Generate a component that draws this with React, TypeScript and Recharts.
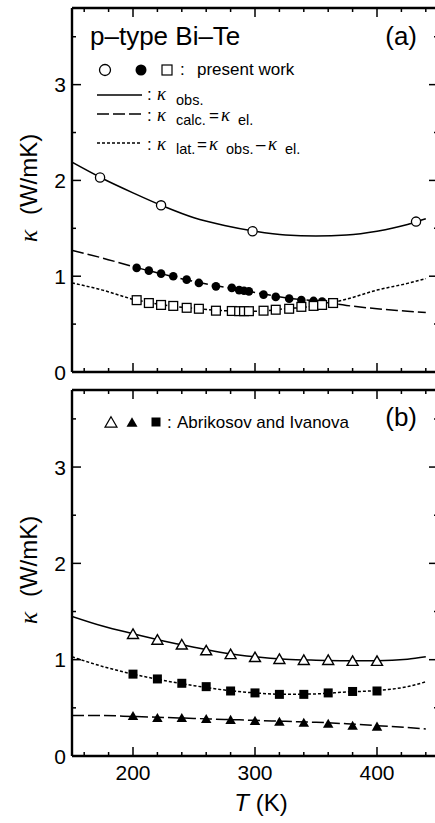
// App.tsx — thermal conductivity of p-type Bi–Te, two stacked panels (a) and (b)
import React from "react";
import { ComposedChart, Line, Scatter, XAxis, YAxis } from "recharts";

// ---- panel (a): present work ----
const T_OBS_A = [173, 223, 298, 432];
const K_OBS_A = [2.03, 1.74, 1.47, 1.57];

const T_EL_A = [203, 213, 223, 233, 244, 254, 268, 281, 287, 291, 295, 307, 317, 328, 338, 348, 355];
const K_EL_A = [1.087, 1.058, 1.027, 0.999, 0.964, 0.93, 0.894, 0.878, 0.855, 0.848, 0.842, 0.808, 0.784, 0.766, 0.752, 0.742, 0.735];

const T_LAT_A = [203, 213, 223, 233, 244, 254, 268, 281, 287, 291, 295, 307, 317, 328, 338, 348, 355, 364];
const K_LAT_A = [0.75, 0.72, 0.7, 0.69, 0.67, 0.66, 0.64, 0.637, 0.635, 0.635, 0.635, 0.64, 0.65, 0.66, 0.68, 0.69, 0.7, 0.72];

// fitted curves (a)
const T_FIT = [150, 175, 200, 225, 250, 275, 300, 325, 350, 375, 400, 425, 440];
const FIT_OBS_A = [2.19, 2.02, 1.87, 1.73, 1.61, 1.53, 1.47, 1.43, 1.42, 1.43, 1.47, 1.54, 1.6];
const FIT_EL_A = [1.27, 1.19, 1.1, 1.02, 0.945, 0.885, 0.83, 0.775, 0.74, 0.695, 0.66, 0.635, 0.62];
const FIT_LAT_A = [0.93, 0.855, 0.76, 0.7, 0.665, 0.64, 0.635, 0.66, 0.69, 0.76, 0.855, 0.925, 0.975];

// ---- panel (b): Abrikosov and Ivanova ----
const T_B = [200, 220, 240, 260, 280, 300, 320, 340, 360, 380, 400];
const K_OBS_B = [1.27, 1.21, 1.16, 1.1, 1.06, 1.03, 1.01, 1.0, 1.0, 0.99, 0.99];
const K_LAT_B = [0.85, 0.8, 0.755, 0.72, 0.675, 0.655, 0.64, 0.64, 0.655, 0.67, 0.675];
const K_EL_B = [0.42, 0.4, 0.4, 0.39, 0.38, 0.37, 0.36, 0.35, 0.34, 0.32, 0.31];

const FIT_OBS_B = [1.45, 1.35, 1.27, 1.195, 1.13, 1.07, 1.03, 1.005, 0.995, 0.99, 0.99, 1.005, 1.03];
const FIT_LAT_B = [1.03, 0.93, 0.85, 0.785, 0.73, 0.685, 0.655, 0.64, 0.645, 0.665, 0.68, 0.72, 0.77];
const FIT_EL_B = [0.42, 0.42, 0.41, 0.4, 0.39, 0.38, 0.37, 0.36, 0.35, 0.335, 0.315, 0.295, 0.28];

// axis ticks
const X_TICKS = [160, 180, 200, 220, 240, 260, 280, 300, 320, 340, 360, 380, 400, 420, 440];
const Y_TICKS = [0, 0.5, 1, 1.5, 2, 2.5, 3, 3.5];

const FONT = "'Liberation Sans', Arial, Helvetica, sans-serif";
const SERIF = "'Liberation Serif', 'Times New Roman', serif";
const W = 450;

const pts = (t: number[], k: number[]) => t.map((v, i) => ({ t: v, k: k[i] }));

// marker shapes
const openCircle = (p: any) => <circle cx={p.cx} cy={p.cy} r={4.6} fill="#fff" stroke="#000" strokeWidth={1.3} />;
const fillCircle = (p: any) => <circle cx={p.cx} cy={p.cy} r={4.3} fill="#000" />;
const openSquare = (p: any) => <rect x={p.cx - 4.4} y={p.cy - 4.4} width={8.8} height={8.8} fill="#fff" stroke="#000" strokeWidth={1.3} />;
const fillSquare = (p: any) => <rect x={p.cx - 4.5} y={p.cy - 4.5} width={9} height={9} fill="#000" />;
const tri = (cx: number, cy: number, s: number) => {
  const h = s * 0.866;
  return `M${cx},${cy - h / 2} L${cx + s / 2},${cy + h / 2} L${cx - s / 2},${cy + h / 2} Z`;
};
const openTri = (p: any) => <path d={tri(p.cx, p.cy, 11)} fill="#fff" stroke="#000" strokeWidth={1.4} />;
const fillTri = (p: any) => <path d={tri(p.cx, p.cy, 10.5)} fill="#000" />;

// inward ticks, majors longer
const xTick = (dir: number, labels: boolean) => (props: any) => {
  const { x, y, payload } = props;
  const major = payload.value % 100 === 0;
  return (
    <g>
      <line x1={x} x2={x} y1={y} y2={y + dir * (major ? 9 : 4)} stroke="#000" strokeWidth={1.5} />
      {labels && major && (
        <text x={x} y={y + 24} textAnchor="middle" fontSize={21} fontFamily={FONT} fill="#000">
          {payload.value}
        </text>
      )}
    </g>
  );
};

const yTick = (dir: number, labels: boolean) => (props: any) => {
  const { x, y, payload } = props;
  const v = payload.value;
  const major = Number.isInteger(v);
  return (
    <g>
      {v !== 0 && <line x1={x} x2={x + dir * (major ? 9 : 4)} y1={y} y2={y} stroke="#000" strokeWidth={1.5} />}
      {labels && major && (
        <text x={x - 6} y={y} dy="0.36em" textAnchor="end" fontSize={21} fontFamily={FONT} fill="#000">
          {v}
        </text>
      )}
    </g>
  );
};

function Panel({
  height, margin, xLabels, fits, marks,
}: {
  height: number;
  margin: { top: number; bottom: number };
  xLabels: boolean;
  fits: { k: number[]; dash?: string }[];
  marks: { t: number[]; k: number[]; shape: any }[];
}) {
  const axisProps = { stroke: "#000", strokeWidth: 2.4 };
  // axes get 1px of room (a 0-sized axis is not drawn), margins take it back
  return (
    <ComposedChart width={W} height={height}
      margin={{ top: margin.top - 1, bottom: margin.bottom - 1, left: 71, right: W - 438 - 1 }}>
      <XAxis xAxisId="b" dataKey="t" type="number" domain={[150, 450]} allowDataOverflow ticks={X_TICKS} interval={0}
        height={1} tickSize={0} tickMargin={0} tickLine={false} axisLine={axisProps} tick={xTick(-1, xLabels)} />
      <XAxis xAxisId="top" orientation="top" dataKey="t" type="number" domain={[150, 450]} allowDataOverflow ticks={X_TICKS} interval={0}
        height={1} tickSize={0} tickMargin={0} tickLine={false} axisLine={axisProps} tick={xTick(1, false)} />
      <YAxis yAxisId="l" type="number" domain={[0, 3.8]} allowDataOverflow ticks={Y_TICKS} interval={0}
        width={1} tickSize={0} tickMargin={0} tickLine={false} axisLine={axisProps} tick={yTick(1, true)} />
      <YAxis yAxisId="r" orientation="right" type="number" domain={[0, 3.8]} allowDataOverflow ticks={Y_TICKS} interval={0}
        width={1} tickSize={0} tickMargin={0} tickLine={false} axisLine={axisProps} tick={yTick(-1, false)} />
      {fits.map((f, i) => (
        <Line key={"f" + i} xAxisId="b" yAxisId="l" data={pts(T_FIT, f.k)} dataKey="k" type="monotone"
          stroke="#000" strokeWidth={1.5} strokeDasharray={f.dash} dot={false} activeDot={false} isAnimationActive={false} />
      ))}
      {marks.map((m, i) => (
        <Scatter key={"m" + i} xAxisId="b" yAxisId="l" data={pts(m.t, m.k)} dataKey="k" shape={m.shape} isAnimationActive={false} />
      ))}
    </ComposedChart>
  );
}

const T = (props: any) => <text fontFamily={FONT} fill="#000" {...props} />;
const Kap = ({ x, y }: { x: number; y: number }) => (
  <text x={x} y={y} fontSize={18.5} fontStyle="italic" fontFamily={SERIF} fill="#000">κ</text>
);

function Overlay() {
  return (
    <svg width={435} height={823} style={{ position: "absolute", left: 0, top: 0, pointerEvents: "none" }}>
      {/* panel (a) texts */}
      <T x={90} y={45} fontSize={26}>p–type Bi–Te</T>
      <T x={417} y={45} fontSize={26} textAnchor="end">(a)</T>

      <circle cx={105} cy={70} r={5.5} fill="#fff" stroke="#000" strokeWidth={1.3} />
      <circle cx={141} cy={70} r={5.5} fill="#000" />
      <rect x={162} y={65} width={10} height={10} fill="#fff" stroke="#000" strokeWidth={1.2} />
      <T x={180} y={75} fontSize={17}>:</T>
      <T x={197} y={75} fontSize={17}>present work</T>

      <line x1={97} x2={142} y1={95} y2={95} stroke="#000" strokeWidth={1.5} />
      <T x={147} y={100} fontSize={17}>:</T>
      <Kap x={157} y={99.5} />
      <T x={176} y={105} fontSize={14.5}>obs.</T>

      <line x1={97} x2={142} y1={114} y2={114} stroke="#000" strokeWidth={1.5} strokeDasharray="12 4" />
      <T x={147} y={121} fontSize={17}>:</T>
      <Kap x={157} y={121} />
      <T x={176} y={125} fontSize={14.5}>calc.</T>
      <T x={209} y={121} fontSize={17}>=</T>
      <Kap x={221} y={121} />
      <T x={238} y={125} fontSize={14.5}>el.</T>

      <line x1={97} x2={142} y1={143} y2={143} stroke="#000" strokeWidth={1.5} strokeDasharray="3 2" />
      <T x={147} y={150} fontSize={17}>:</T>
      <Kap x={157} y={150} />
      <T x={176} y={154} fontSize={14.5}>lat.</T>
      <T x={197} y={150} fontSize={17}>=</T>
      <Kap x={209} y={150} />
      <T x={226} y={154} fontSize={14.5}>obs.</T>
      <T x={256} y={150} fontSize={17}>–</T>
      <Kap x={268} y={150} />
      <T x={285} y={154} fontSize={14.5}>el.</T>

      {/* panel (b) texts */}
      <T x={417} y={426} fontSize={26} textAnchor="end">(b)</T>
      <path d={tri(111, 422, 12)} fill="#fff" stroke="#000" strokeWidth={1.2} />
      <path d={tri(132, 422, 11)} fill="#000" />
      <rect x={151.5} y={417.5} width={9} height={9} fill="#000" />
      <T x={167} y={428} fontSize={17}>:</T>
      <T x={177} y={428} fontSize={17}>Abrikosov and Ivanova</T>

      {/* axis titles */}
      {[188, 570].map((cy) => (
        <T key={cy} transform="rotate(-90)" x={-cy} y={37} fontSize={24} textAnchor="middle">
          <tspan fontStyle="italic" fontFamily={SERIF} fontSize={26}>κ</tspan>
          <tspan dx={8}> (W/mK)</tspan>
        </T>
      ))}
      <T x={261} y={811} fontSize={24} textAnchor="middle">
        <tspan fontStyle="italic">T</tspan> (K)
      </T>
    </svg>
  );
}

export default function App() {
  return (
    <div style={{ position: "absolute", left: 0, top: 0, width: 435, height: 823, overflow: "hidden", background: "#fff" }}>
      <div style={{ position: "absolute", left: 0, top: 0 }}>
        <Panel
          height={386}
          margin={{ top: 8, bottom: 14 }}
          xLabels={false}
          fits={[{ k: FIT_OBS_A }, { k: FIT_EL_A, dash: "12 4" }, { k: FIT_LAT_A, dash: "3 2" }]}
          marks={[
            { t: T_OBS_A, k: K_OBS_A, shape: openCircle },
            { t: T_EL_A, k: K_EL_A, shape: fillCircle },
            { t: T_LAT_A, k: K_LAT_A, shape: openSquare },
          ]}
        />
      </div>
      <div style={{ position: "absolute", left: 0, top: 386 }}>
        <Panel
          height={437}
          margin={{ top: 4, bottom: 67 }}
          xLabels={true}
          fits={[{ k: FIT_OBS_B }, { k: FIT_LAT_B, dash: "3 2" }, { k: FIT_EL_B, dash: "12 4" }]}
          marks={[
            { t: T_B, k: K_OBS_B, shape: openTri },
            { t: T_B, k: K_LAT_B, shape: fillSquare },
            { t: T_B, k: K_EL_B, shape: fillTri },
          ]}
        />
      </div>
      <Overlay />
    </div>
  );
}
